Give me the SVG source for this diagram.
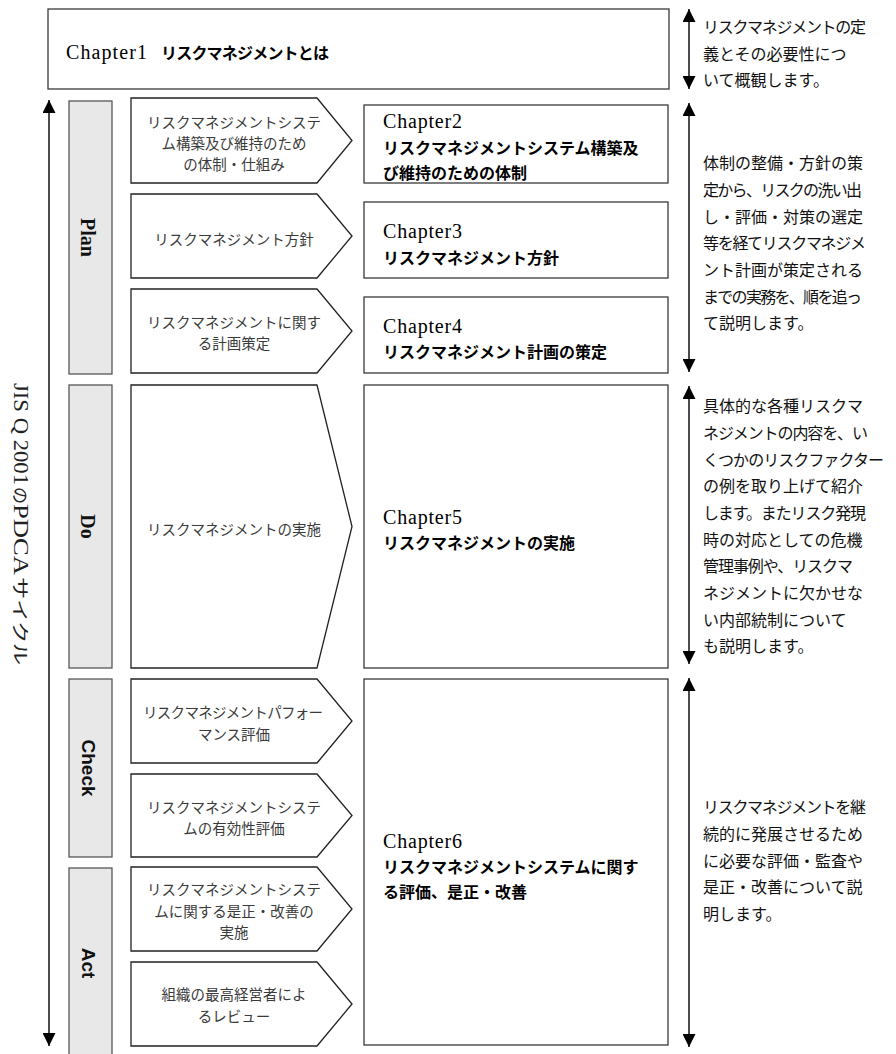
<svg xmlns="http://www.w3.org/2000/svg" width="896" height="1054" viewBox="0 0 896 1054">
<style>
.box{fill:#fff;stroke:#3a3a3a;stroke-width:1.3}
.pent{fill:#fff;stroke:#222;stroke-width:1.3}
.bar{fill:#e8e8e8;stroke:#4a4a4a;stroke-width:1.2}
.ptxt{font-family:"Noto Sans CJK JP",sans-serif;font-size:14.5px;fill:#3a3a3a;text-anchor:middle}
.chl{font-family:"Liberation Serif",serif;font-size:20px;fill:#000}
.chj{font-family:"Noto Sans CJK JP",sans-serif;font-size:16px;font-weight:700;fill:#000}
.desc{font-family:"Noto Sans CJK JP",sans-serif;font-size:16px;fill:#111}
.phase{font-family:"Liberation Serif",serif;font-size:20px;font-weight:700;fill:#111;text-anchor:middle;dominant-baseline:central}
.phase2{font-family:"Liberation Sans",sans-serif;font-size:19px;font-weight:700;fill:#111;text-anchor:middle;dominant-baseline:central}
.vl{font-family:"Liberation Serif",serif;font-size:20px;fill:#222;dominant-baseline:central}
.vj{font-family:"Noto Sans CJK JP",sans-serif;font-size:17px;fill:#222;dominant-baseline:central}
.arr{stroke:#000;stroke-width:1.4;fill:none;marker-start:url(#ah);marker-end:url(#ah)}
</style>
<defs>
<marker id="ah" viewBox="0 0 10 10" refX="10" refY="5" markerWidth="15" markerHeight="13" markerUnits="userSpaceOnUse" orient="auto-start-reverse">
<path d="M0,0 L10,5 L0,10 z" fill="#000"/>
</marker>
</defs>

<g id="connectors">
<line class="arr" x1="49" y1="100" x2="49" y2="1046"/>
<line class="arr" x1="689" y1="9" x2="689" y2="89"/>
<line class="arr" x1="689" y1="103" x2="689" y2="372"/>
<line class="arr" x1="689" y1="386" x2="689" y2="664"/>
<line class="arr" x1="689" y1="678" x2="689" y2="1047"/>
</g>

<g id="cycle-label" transform="translate(21,0) rotate(90)">
<text class="vl" x="383" y="0" textLength="102" lengthAdjust="spacingAndGlyphs">JIS Q 2001</text>
<text class="vj" x="487" y="0">の</text>
<text class="vl" x="504" y="0" textLength="71" lengthAdjust="spacingAndGlyphs">PDCA</text>
<text class="vj" x="577" y="0" textLength="88" lengthAdjust="spacingAndGlyphs">サイクル</text>
</g>

<g id="chapter1">
<rect class="box" x="48" y="9" width="621" height="80"/>
<text class="chl" x="66" y="59" textLength="81">Chapter1</text>
<text class="chj" x="161" y="59" textLength="168">リスクマネジメントとは</text>
</g>
<g id="desc1">
<text class="desc" x="703" y="33" textLength="163">リスクマネジメントの定</text>
<text class="desc" x="703" y="60">義とその必要性につ</text>
<text class="desc" x="703" y="86">いて概観します。</text>
</g>

<g id="bar-plan">
<rect class="bar" x="69" y="101" width="43" height="273"/>
<text class="phase" transform="translate(88,237.5) rotate(90)">Plan</text>
</g>
<g id="bar-do">
<rect class="bar" x="69" y="385" width="43" height="283"/>
<text class="phase" transform="translate(88,526.5) rotate(90)">Do</text>
</g>
<g id="bar-check">
<rect class="bar" x="69" y="679" width="43" height="178"/>
<text class="phase2" transform="translate(88,768) rotate(90)">Check</text>
</g>
<g id="bar-act">
<rect class="bar" x="69" y="868" width="43" height="195"/>
<text class="phase2" transform="translate(88,963) rotate(90)">Act</text>
</g>

<g id="step-plan1">
<polygon class="pent" points="131,98 317,98 352,140.5 317,183 131,183"/>
<text class="ptxt" x="234" y="128">リスクマネジメントシステ</text>
<text class="ptxt" x="234" y="149">ム構築及び維持のため</text>
<text class="ptxt" x="234" y="170">の体制・仕組み</text>
</g>
<g id="step-plan2">
<polygon class="pent" points="131,194 317,194 352,236 317,278 131,278"/>
<text class="ptxt" x="234" y="245">リスクマネジメント方針</text>
</g>
<g id="step-plan3">
<polygon class="pent" points="131,289 317,289 352,331 317,373 131,373"/>
<text class="ptxt" x="234" y="328">リスクマネジメントに関す</text>
<text class="ptxt" x="234" y="349">る計画策定</text>
</g>
<g id="step-do">
<polygon class="pent" points="131,385 317,385 352,526.5 317,668 131,668"/>
<text class="ptxt" x="234" y="535">リスクマネジメントの実施</text>
</g>
<g id="step-check1">
<polygon class="pent" points="131,679 317,679 352,721 317,763 131,763"/>
<text class="ptxt" x="233" y="718" textLength="180">リスクマネジメントパフォー</text>
<text class="ptxt" x="234" y="740">マンス評価</text>
</g>
<g id="step-check2">
<polygon class="pent" points="131,774 317,774 352,815.5 317,857 131,857"/>
<text class="ptxt" x="234" y="813">リスクマネジメントシステ</text>
<text class="ptxt" x="234" y="834">ムの有効性評価</text>
</g>
<g id="step-act1">
<polygon class="pent" points="131,867 317,867 352,909 317,951 131,951"/>
<text class="ptxt" x="234" y="895">リスクマネジメントシステ</text>
<text class="ptxt" x="234" y="917">ムに関する是正・改善の</text>
<text class="ptxt" x="234" y="938">実施</text>
</g>
<g id="step-act2">
<polygon class="pent" points="131,962 317,962 352,1004 317,1046 131,1046"/>
<text class="ptxt" x="234" y="1000">組織の最高経営者によ</text>
<text class="ptxt" x="234" y="1022">るレビュー</text>
</g>

<g id="chapter2">
<rect class="box" x="364" y="105" width="304" height="78"/>
<text class="chl" x="383" y="128" textLength="79">Chapter2</text>
<text class="chj" x="383" y="154">リスクマネジメントシステム構築及</text>
<text class="chj" x="383" y="179">び維持のための体制</text>
</g>
<g id="chapter3">
<rect class="box" x="364" y="202" width="304" height="76"/>
<text class="chl" x="383" y="238" textLength="79">Chapter3</text>
<text class="chj" x="383" y="264">リスクマネジメント方針</text>
</g>
<g id="chapter4">
<rect class="box" x="364" y="297" width="304" height="76"/>
<text class="chl" x="383" y="333" textLength="79">Chapter4</text>
<text class="chj" x="383" y="358">リスクマネジメント計画の策定</text>
</g>
<g id="chapter5">
<rect class="box" x="364" y="385" width="304" height="283"/>
<text class="chl" x="383" y="524" textLength="79">Chapter5</text>
<text class="chj" x="383" y="549">リスクマネジメントの実施</text>
</g>
<g id="chapter6">
<rect class="box" x="364" y="679" width="304" height="366"/>
<text class="chl" x="383" y="848" textLength="79">Chapter6</text>
<text class="chj" x="383" y="873">リスクマネジメントシステムに関す</text>
<text class="chj" x="383" y="898">る評価、是正・改善</text>
</g>

<g id="desc-plan">
<text class="desc" x="703" y="169">体制の整備・方針の策</text>
<text class="desc" x="703" y="196" textLength="159">定から、リスクの洗い出</text>
<text class="desc" x="703" y="223">し・評価・対策の選定</text>
<text class="desc" x="703" y="249" textLength="163">等を経てリスクマネジメ</text>
<text class="desc" x="703" y="276">ント計画が策定される</text>
<text class="desc" x="703" y="303" textLength="159">までの実務を、順を追っ</text>
<text class="desc" x="703" y="329">て説明します。</text>
</g>
<g id="desc-do">
<text class="desc" x="703" y="412">具体的な各種リスクマ</text>
<text class="desc" x="703" y="439" textLength="165">ネジメントの内容を、い</text>
<text class="desc" x="703" y="466" textLength="181">くつかのリスクファクター</text>
<text class="desc" x="703" y="492">の例を取り上げて紹介</text>
<text class="desc" x="703" y="519" textLength="163">します。またリスク発現</text>
<text class="desc" x="703" y="546">時の対応としての危機</text>
<text class="desc" x="703" y="572" textLength="150">管理事例や、リスクマ</text>
<text class="desc" x="703" y="599">ネジメントに欠かせな</text>
<text class="desc" x="703" y="626">い内部統制について</text>
<text class="desc" x="703" y="652">も説明します。</text>
</g>
<g id="desc-check">
<text class="desc" x="703" y="813" textLength="163">リスクマネジメントを継</text>
<text class="desc" x="703" y="840">続的に発展させるため</text>
<text class="desc" x="703" y="867">に必要な評価・監査や</text>
<text class="desc" x="703" y="893">是正・改善について説</text>
<text class="desc" x="703" y="920">明します。</text>
</g>
</svg>
